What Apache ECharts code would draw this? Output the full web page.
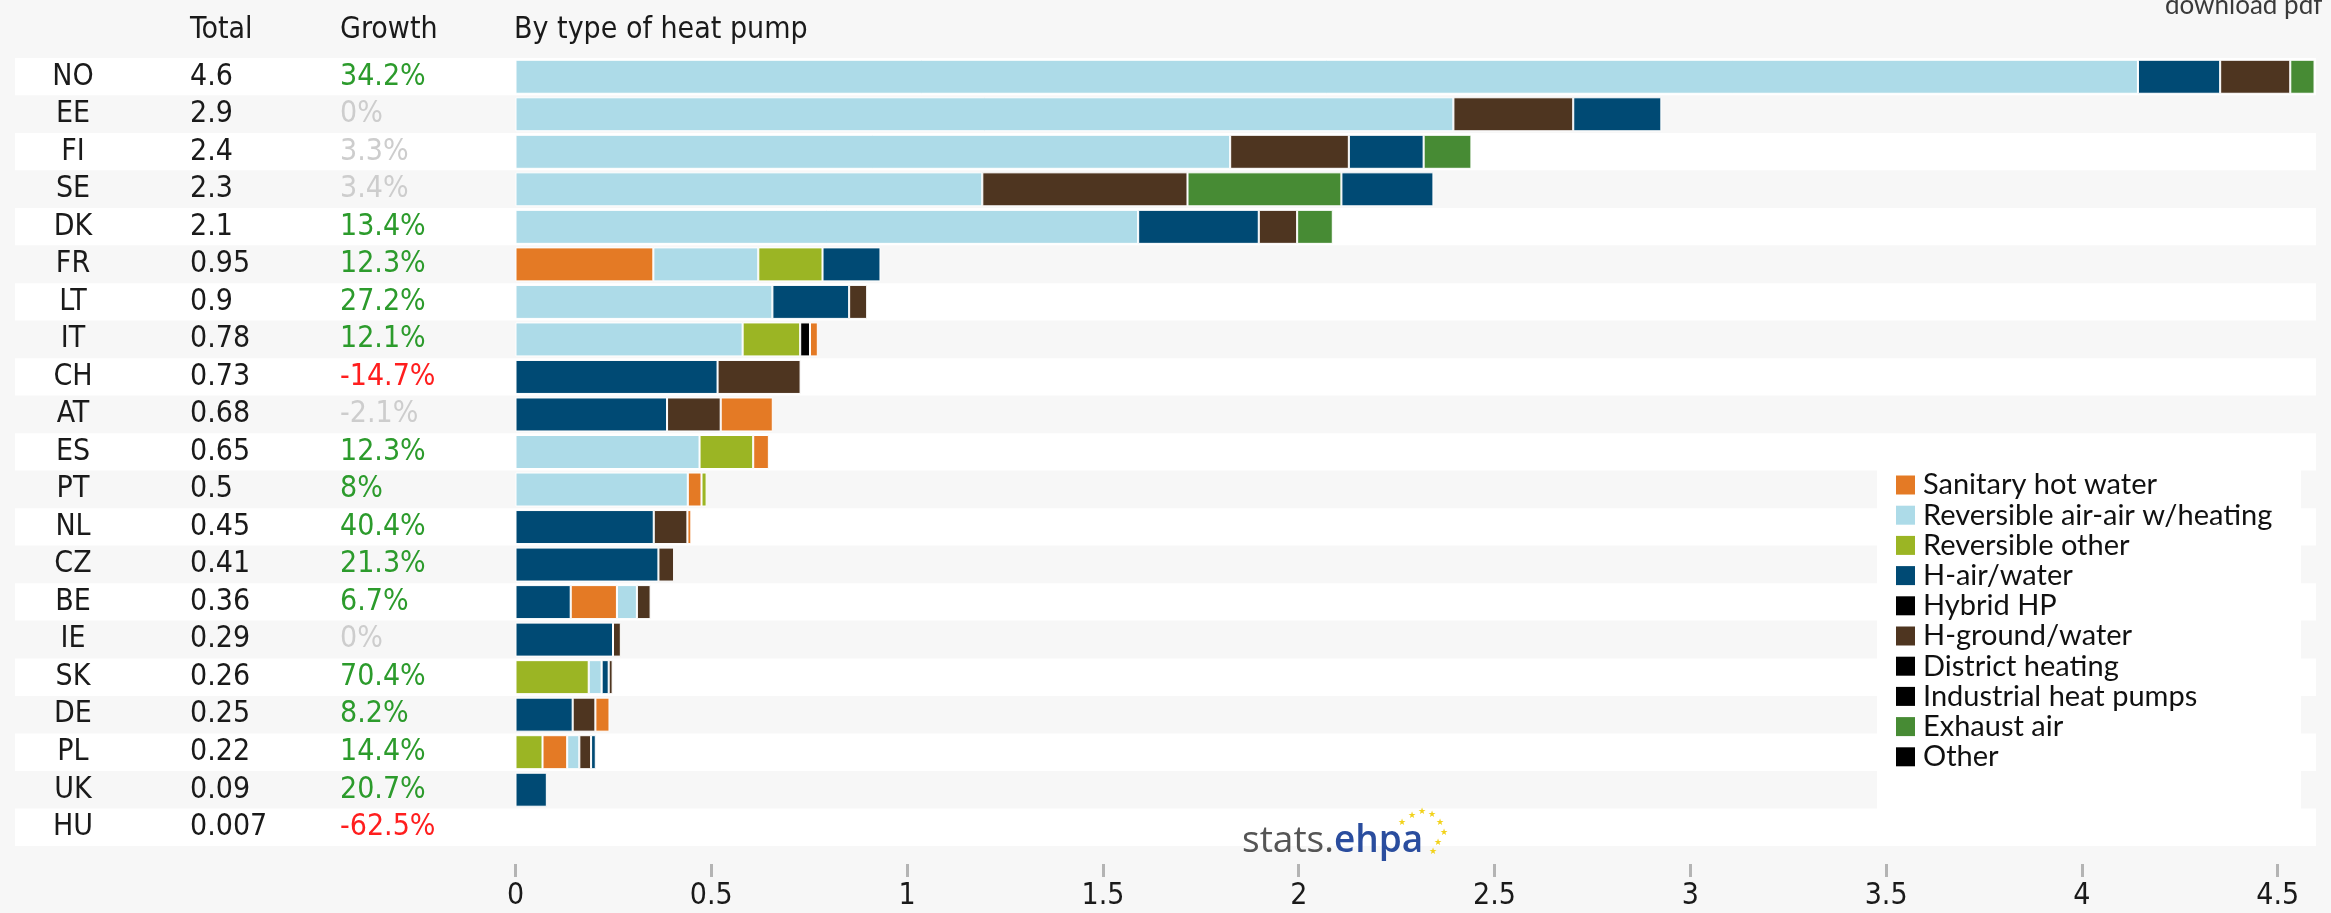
<!DOCTYPE html>
<html>
<head>
<meta charset="utf-8">
<script src="https://cdn.jsdelivr.net/npm/echarts@6/dist/echarts.min.js"></script>
<style>
  html, body { margin: 0; padding: 0; background: #f7f7f7; }
  #chart { width: 2331px; height: 913px; }
</style>
</head>
<body>
<div id="chart"></div>
<script>
// countries, top to bottom
const countries = ['NO', 'EE', 'FI', 'SE', 'DK', 'FR', 'LT', 'IT', 'CH', 'AT', 'ES', 'PT', 'NL', 'CZ', 'BE', 'IE', 'SK', 'DE', 'PL', 'UK', 'HU']
const totals = [4.6, 2.9, 2.4, 2.3, 2.1, 0.95, 0.9, 0.78, 0.73, 0.68, 0.65, 0.5, 0.45, 0.41, 0.36, 0.29, 0.26, 0.25, 0.22, 0.09, 0.007]
const growth = [34.2, 0, 3.3, 3.4, 13.4, 12.3, 27.2, 12.1, -14.7, -2.1, 12.3, 8, 40.4, 21.3, 6.7, 0, 70.4, 8.2, 14.4, 20.7, -62.5]

// values by type of heat pump (same order as countries)
const sanitaryHotWater = [0, 0, 0, 0, 0, 0.352, 0, 0.02, 0, 0.133, 0.04, 0.035, 0.01, 0, 0.118, 0, 0, 0.036, 0.063, 0, 0]
const reversibleAirAir = [4.143, 2.395, 1.825, 1.192, 1.59, 0.268, 0.656, 0.58, 0, 0, 0.47, 0.44, 0, 0, 0.051, 0, 0.033, 0, 0.031, 0, 0]
const reversibleOther = [0, 0, 0, 0, 0, 0.164, 0, 0.147, 0, 0, 0.137, 0.013, 0, 0, 0, 0, 0.187, 0, 0.069, 0, 0]
const hAirWater = [0.21, 0.225, 0.191, 0.235, 0.308, 0.148, 0.196, 0, 0.516, 0.387, 0, 0, 0.353, 0.365, 0.141, 0.249, 0.018, 0.146, 0.012, 0.08, 0]
const hybridHP = [0, 0, 0, 0, 0, 0, 0, 0.025, 0, 0, 0, 0, 0, 0, 0, 0, 0, 0, 0, 0, 0]
const hGroundWater = [0.179, 0.306, 0.303, 0.524, 0.098, 0, 0.046, 0, 0.212, 0.137, 0, 0, 0.086, 0.04, 0.035, 0.02, 0.01, 0.058, 0.03, 0, 0]
const districtHeating = [0, 0, 0, 0, 0, 0, 0, 0, 0, 0, 0, 0, 0, 0, 0, 0, 0, 0, 0, 0, 0]
const industrialHP = [0, 0, 0, 0, 0, 0, 0, 0, 0, 0, 0, 0, 0, 0, 0, 0, 0, 0, 0, 0, 0]
const exhaustAir = [0.062, 0, 0.122, 0.393, 0.091, 0, 0, 0, 0, 0, 0, 0, 0, 0, 0, 0, 0, 0, 0, 0, 0]
const other = [0, 0, 0, 0, 0, 0, 0, 0, 0, 0, 0, 0, 0, 0, 0, 0, 0, 0, 0, 0, 0]

const xTicks = [0, 0.5, 1, 1.5, 2, 2.5, 3, 3.5, 4, 4.5]

const types = [
  { name: 'Sanitary hot water', color: '#e47a25', data: sanitaryHotWater },
  { name: 'Reversible air-air w/heating', color: '#addbe8', data: reversibleAirAir },
  { name: 'Reversible other', color: '#9bb524', data: reversibleOther },
  { name: 'H-air/water', color: '#004a74', data: hAirWater },
  { name: 'Hybrid HP', color: '#000000', data: hybridHP },
  { name: 'H-ground/water', color: '#4e3520', data: hGroundWater },
  { name: 'District heating', color: '#000000', data: districtHeating },
  { name: 'Industrial heat pumps', color: '#000000', data: industrialHP },
  { name: 'Exhaust air', color: '#478b34', data: exhaustAir },
  { name: 'Other', color: '#000000', data: other }
]

const colFont = "'DejaVu Sans Condensed', 'DejaVu Sans', sans-serif"
const legFont = "Lato, 'Open Sans', sans-serif"

// every row is sorted biggest first, so build one stacked series per rank
const sorted = countries.map(function(c, i) {
  return types
    .map(function(t) { return { value: t.data[i], color: t.color } })
    .filter(function(d) { return d.value > 0 })
    .sort(function(a, b) { return b.value - a.value })
})
const maxRank = Math.max.apply(null, sorted.map(function(r) { return r.length }))

const series = []
for (let k = 0; k < maxRank; k++) {
  series.push({
    name: 'rank' + k,
    type: 'bar',
    stack: 'total',
    xAxisIndex: 1,
    yAxisIndex: 3,
    barWidth: 34,
    silent: true,
    itemStyle: { borderColor: '#ffffff', borderWidth: 1 },
    data: sorted.map(function(r) {
      return r[k] ? { value: r[k].value, itemStyle: { color: r[k].color } } : '-'
    })
  })
}
// empty series just for the legend
types.forEach(function(t) {
  series.push({
    name: t.name,
    type: 'bar',
    stack: 'total',
    xAxisIndex: 1,
    yAxisIndex: 3,
    itemStyle: { color: t.color },
    data: []
  })
})

function growthStyle(v) {
  if (v <= -5) return 'n'
  if (Math.abs(v) < 5) return 'z'
  return 'p'
}

// one hidden axis per text column in the left grid
function columnAxis(margin, align, labelExtra, extra) {
  const label = { inside: true, interval: 0, margin: margin, align: align, fontSize: 30, fontFamily: colFont, color: '#1a1a1a' }
  const ax = {
    gridIndex: 0,
    type: 'category',
    position: 'left',
    inverse: true,
    data: countries,
    axisLine: { show: false },
    axisTick: { show: false },
    axisLabel: Object.assign(label, labelExtra || {})
  }
  return Object.assign(ax, extra || {})
}

const chart = echarts.init(document.getElementById('chart'))
const option = {
  backgroundColor: '#f7f7f7',
  animation: false,
  grid: [
    { left: 15, right: 15, top: 58, height: 788 },
    { left: 515.5, width: 1801.4, top: 58, height: 788 }
  ],
  xAxis: [
    { gridIndex: 0, type: 'value', show: false },
    {
      gridIndex: 1,
      type: 'value',
      min: 0,
      max: 4.6,
      interval: 0.5,
      offset: 18,
      axisLine: { show: false },
      splitLine: { show: false },
      axisTick: { show: true, length: 13, customValues: xTicks, lineStyle: { color: '#b4b4b4', width: 3 } },
      axisLabel: { customValues: xTicks, margin: 17, fontSize: 30, fontFamily: colFont, color: '#1a1a1a' }
    }
  ],
  yAxis: [
    columnAxis(58, 'center', null, {
      splitArea: { show: true, areaStyle: { color: ['#ffffff', '#f7f7f7'] } }
    }),
    columnAxis(175, 'left', {
      formatter: function(v, i) { return String(totals[i]) }
    }),
    columnAxis(325, 'left', {
      formatter: function(v, i) { return '{' + growthStyle(growth[i]) + '|' + growth[i] + '%}' },
      rich: {
        p: { color: '#2c9b2c', fontSize: 30, fontFamily: colFont },
        z: { color: '#cdcdcd', fontSize: 30, fontFamily: colFont },
        n: { color: '#ff1e1e', fontSize: 30, fontFamily: colFont }
      }
    }),
    { gridIndex: 1, type: 'category', inverse: true, data: countries, show: false }
  ],
  legend: {
    orient: 'vertical',
    left: 1891,
    top: 465,
    itemWidth: 19,
    itemHeight: 19,
    itemGap: 0.2,
    icon: 'rect',
    selectedMode: false,
    z: 5,
    textStyle: { fontFamily: legFont, fontSize: 29, lineHeight: 30, color: '#111', padding: [0, 0, 0, 3] },
    data: types.map(function(t) { return t.name })
  },
  graphic: [
    { type: 'rect', z: 1, silent: true, shape: { x: 1877, y: 466, width: 424, height: 344 }, style: { fill: '#ffffff' } },
    { type: 'text', x: 190, y: 30, style: { text: 'Total', fontSize: 30, fontFamily: colFont, fill: '#1a1a1a', verticalAlign: 'middle' } },
    { type: 'text', x: 340, y: 30, style: { text: 'Growth', fontSize: 30, fontFamily: colFont, fill: '#1a1a1a', verticalAlign: 'middle' } },
    { type: 'text', x: 514, y: 30, style: { text: 'By type of heat pump', fontSize: 30, fontFamily: colFont, fill: '#1a1a1a', verticalAlign: 'middle' } },
    { type: 'text', x: 2165, y: 6, style: { text: 'download pdf', fontSize: 26, fontFamily: legFont, fill: '#3a3a3a', verticalAlign: 'middle' } },
    {
      type: 'text', x: 1242, y: 841, z: 3,
      style: {
        text: '{a|stats.}{b|ehpa}', verticalAlign: 'middle',
        rich: {
          a: { fontSize: 37, fontFamily: "'Open Sans', sans-serif", fill: '#555555' },
          b: { fontSize: 37, fontFamily: "'Open Sans', sans-serif", fontWeight: 600, fill: '#2a4d9e' }
        }
      }
    },
    { type: 'text', x: 1402, y: 823, z: 3, style: { text: '★', fontSize: 9, fill: '#f2d21a', align: 'center', verticalAlign: 'middle' } },
    { type: 'text', x: 1412, y: 816, z: 3, style: { text: '★', fontSize: 9, fill: '#f2d21a', align: 'center', verticalAlign: 'middle' } },
    { type: 'text', x: 1422, y: 812, z: 3, style: { text: '★', fontSize: 9, fill: '#f2d21a', align: 'center', verticalAlign: 'middle' } },
    { type: 'text', x: 1432, y: 815, z: 3, style: { text: '★', fontSize: 9, fill: '#f2d21a', align: 'center', verticalAlign: 'middle' } },
    { type: 'text', x: 1440, y: 823, z: 3, style: { text: '★', fontSize: 9, fill: '#f2d21a', align: 'center', verticalAlign: 'middle' } },
    { type: 'text', x: 1444, y: 833, z: 3, style: { text: '★', fontSize: 9, fill: '#f2d21a', align: 'center', verticalAlign: 'middle' } },
    { type: 'text', x: 1438, y: 843, z: 3, style: { text: '★', fontSize: 9, fill: '#f2d21a', align: 'center', verticalAlign: 'middle' } },
    { type: 'text', x: 1433, y: 852, z: 3, style: { text: '★', fontSize: 9, fill: '#f2d21a', align: 'center', verticalAlign: 'middle' } }
  ],
  series: series
}
chart.setOption(option)
</script>
</body>
</html>
